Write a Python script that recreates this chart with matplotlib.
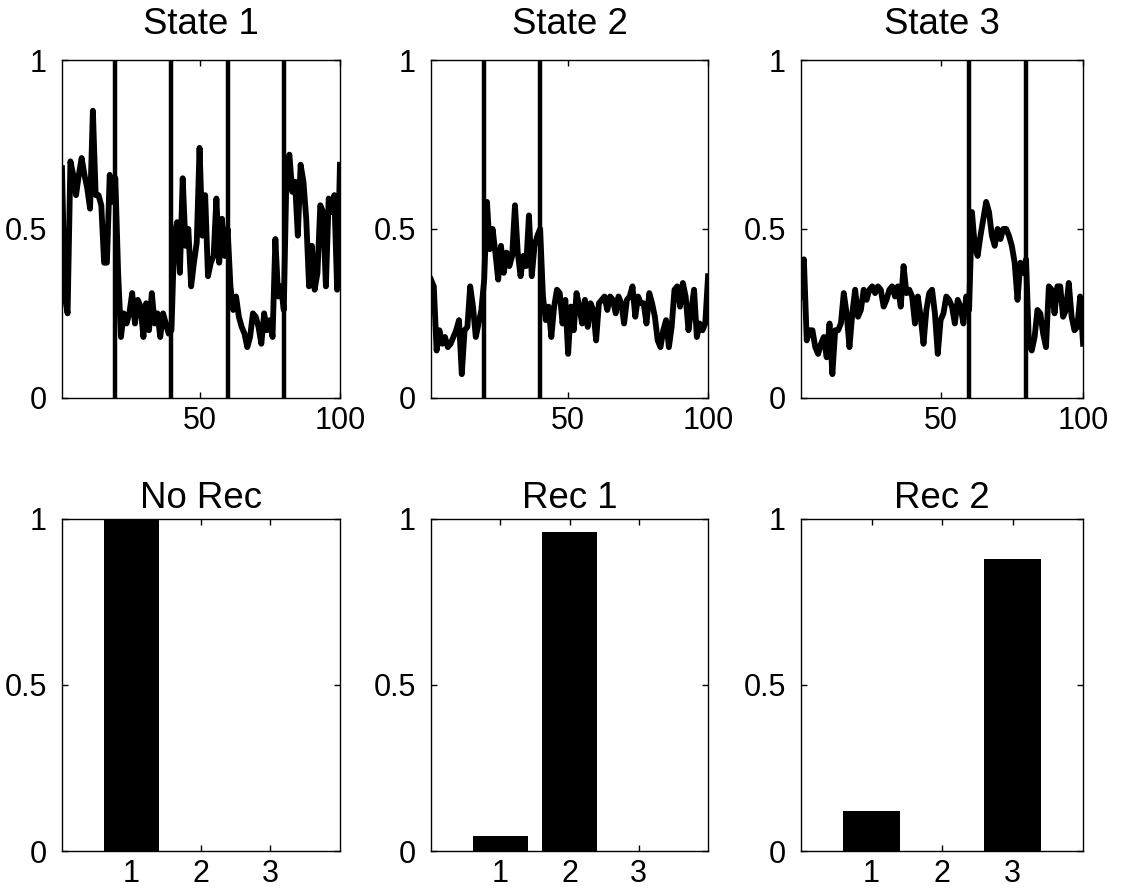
import matplotlib.pyplot as plt
import numpy as np

plt.rcParams["font.family"] = ["Liberation Sans", "DejaVu Sans"]
plt.rcParams["font.size"] = 22

# ---- data ----
state1 = [0.68, 0.30, 0.25, 0.70, 0.66, 0.60, 0.66, 0.71, 0.66, 0.62,
          0.56, 0.85, 0.60, 0.60, 0.57, 0.40, 0.40, 0.66, 0.58, 0.65,
          0.37, 0.18, 0.25, 0.22, 0.25, 0.31, 0.22, 0.29, 0.27, 0.18,
          0.28, 0.20, 0.31, 0.22, 0.25, 0.18, 0.25, 0.22, 0.19, 0.20,
          0.48, 0.52, 0.37, 0.65, 0.45, 0.50, 0.33, 0.40, 0.46, 0.74,
          0.48, 0.60, 0.36, 0.40, 0.42, 0.59, 0.40, 0.53, 0.42, 0.50,
          0.33, 0.26, 0.30, 0.24, 0.21, 0.19, 0.15, 0.18, 0.25, 0.24,
          0.21, 0.16, 0.25, 0.20, 0.23, 0.18, 0.47, 0.30, 0.33, 0.26,
          0.68, 0.72, 0.61, 0.64, 0.48, 0.69, 0.64, 0.53, 0.33, 0.45,
          0.32, 0.37, 0.57, 0.55, 0.33, 0.59, 0.55, 0.60, 0.32, 0.69]

state2 = [0.35, 0.33, 0.14, 0.20, 0.16, 0.18, 0.15, 0.16, 0.18, 0.20,
          0.23, 0.07, 0.20, 0.21, 0.33, 0.27, 0.18, 0.22, 0.26, 0.35,
          0.58, 0.44, 0.50, 0.43, 0.35, 0.45, 0.37, 0.43, 0.39, 0.42,
          0.57, 0.43, 0.36, 0.42, 0.39, 0.54, 0.36, 0.45, 0.48, 0.50,
          0.30, 0.23, 0.27, 0.18, 0.27, 0.32, 0.31, 0.22, 0.29, 0.13,
          0.27, 0.20, 0.31, 0.27, 0.22, 0.29, 0.21, 0.28, 0.26, 0.17,
          0.28, 0.29, 0.30, 0.26, 0.30, 0.29, 0.25, 0.30, 0.28, 0.22,
          0.29, 0.30, 0.33, 0.24, 0.30, 0.28, 0.28, 0.22, 0.31, 0.28,
          0.24, 0.17, 0.15, 0.20, 0.23, 0.15, 0.21, 0.32, 0.33, 0.27,
          0.34, 0.30, 0.20, 0.26, 0.32, 0.18, 0.22, 0.20, 0.22, 0.36]

state3 = [0.30, 0.41, 0.17, 0.20, 0.20, 0.15, 0.13, 0.16, 0.18, 0.12,
          0.22, 0.07, 0.20, 0.20, 0.22, 0.31, 0.25, 0.15, 0.25, 0.32,
          0.24, 0.26, 0.32, 0.29, 0.32, 0.33, 0.31, 0.33, 0.32, 0.27,
          0.29, 0.32, 0.33, 0.30, 0.33, 0.27, 0.39, 0.31, 0.32, 0.30,
          0.22, 0.30, 0.24, 0.16, 0.26, 0.31, 0.32, 0.25, 0.13, 0.23,
          0.25, 0.30, 0.29, 0.27, 0.22, 0.29, 0.27, 0.22, 0.30, 0.26,
          0.55, 0.45, 0.42, 0.48, 0.53, 0.58, 0.55, 0.48, 0.45, 0.50,
          0.47, 0.50, 0.50, 0.48, 0.45, 0.40, 0.29, 0.40, 0.37, 0.41,
          0.16, 0.14, 0.18, 0.26, 0.25, 0.19, 0.15, 0.33, 0.32, 0.25,
          0.33, 0.33, 0.24, 0.26, 0.34, 0.24, 0.20, 0.21, 0.30, 0.16]

state_titles = ["State 1", "State 2", "State 3"]
state_series = [state1, state2, state3]
state_switches = [[20, 40, 60, 80], [20, 40], [60, 80]]

rec_titles = ["No Rec", "Rec 1", "Rec 2"]
rec_states = [1, 2, 3]
rec_values = [[1.0, 0.0, 0.0], [0.045, 0.96, 0.0], [0.12, 0.0, 0.88]]

fig = plt.figure(figsize=(11.23, 8.96), dpi=100)

lefts = [0.0552, 0.3838, 0.7133]
widths = [0.2475, 0.2467, 0.2511]


def style(ax):
    ax.tick_params(direction="in", top=True, right=True, length=4, width=1)
    ax.tick_params(axis="y", pad=11)
    ax.tick_params(axis="x", pad=6)
    for s in ax.spines.values():
        s.set_linewidth(1.0)
    ax.set_yticks([0, 0.5, 1], ["0", "0.5", "1"])
    ax.set_ylim(0, 1)


for k in range(3):
    ax = fig.add_axes([lefts[k], 0.556, widths[k], 0.377])
    t = np.arange(1, 101)
    ax.plot(t, state_series[k], color="black", lw=4.2)
    for xs in state_switches[k]:
        ax.axvline(xs, color="black", lw=3.2)
    ax.set_xlim(1, 100)
    ax.set_xticks([50, 100])
    style(ax)
    ax.set_title(state_titles[k], pad=19)

for k in range(3):
    ax = fig.add_axes([lefts[k], 0.0502, widths[k], 0.3706])
    ax.bar(rec_states, rec_values[k], width=0.8, color="black")
    ax.set_xlim(0, 4)
    ax.set_xticks(rec_states)
    style(ax)
    ax.set_title(rec_titles[k], pad=8)

fig.savefig("out.png", dpi=100)
